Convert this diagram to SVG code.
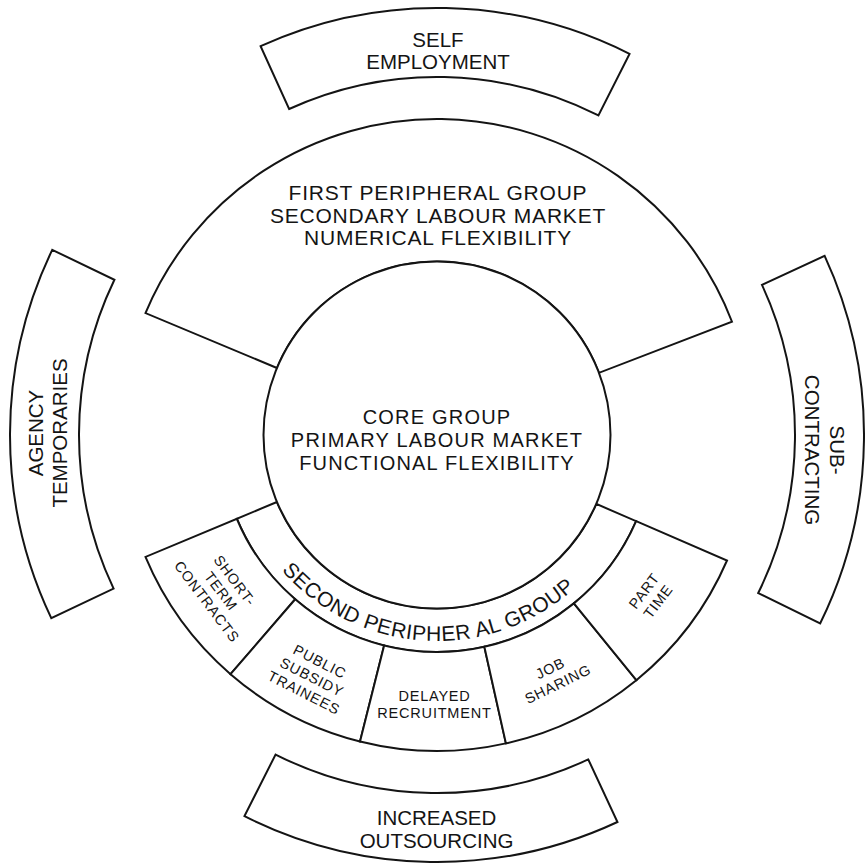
<svg xmlns="http://www.w3.org/2000/svg" width="865" height="865" viewBox="0 0 865 865">
<style>
.shape{fill:#fff;stroke:#141414;stroke-width:2;stroke-linejoin:miter}
text{font-family:"Liberation Sans",Arial,sans-serif;fill:#141414;text-anchor:middle}
.big{font-size:21px;letter-spacing:0.8px}
.core{font-size:20px;letter-spacing:1.2px}
.sat{font-size:20.5px}
.cell{font-size:14.5px;letter-spacing:0.8px}
.band{font-size:21px;letter-spacing:0.5px;text-anchor:middle}
</style>
<defs>
<path id="bandArc" d="M 247.38 515.49 A 206 206 0 0 0 626.62 515.49"/>
</defs>
<rect width="865" height="865" fill="#fff"/>

<g id="self-employment">
<path class="shape" d="M 260.61 46.14 A 427 427 0 0 1 629.53 53.86 L 598.42 115.45 A 358 358 0 0 0 289.11 108.98 Z"/>
<text class="sat" x="438" y="46.5">SELF</text>
<text class="sat" x="438" y="68.5">EMPLOYMENT</text>
</g>

<g id="agency-temporaries">
<path class="shape" d="M 52.24 249.83 L 114.41 279.75 A 358 358 0 0 0 113.60 588.56 L 51.27 618.16 A 427 427 0 0 1 52.24 249.83 Z"/>
<g transform="translate(0,433) rotate(-90)">
<text class="sat" x="0" y="43.3">AGENCY</text>
<text class="sat" x="0" y="66.7">TEMPORARIES</text>
</g>
</g>

<g id="sub-contracting">
<path class="shape" d="M 761.99 284.84 L 824.62 255.89 A 427 427 0 0 1 820.13 623.52 L 758.22 593.06 A 358 358 0 0 0 761.99 284.84 Z"/>
<g transform="translate(0,450) rotate(90)">
<text class="sat" x="0" y="-830">SUB-</text>
<text class="sat" x="0" y="-805">CONTRACTING</text>
</g>
</g>

<g id="increased-outsourcing">
<path class="shape" d="M 275.58 754.55 A 358 358 0 0 0 588.30 759.46 L 617.46 821.99 A 427 427 0 0 1 244.47 816.14 Z"/>
<text class="sat" x="436.5" y="825">INCREASED</text>
<text class="sat" x="436.5" y="848">OUTSOURCING</text>
</g>

<g id="first-peripheral-group">
<path class="shape" d="M 276.93 368.04 L 145.47 313.05 A 316 316 0 0 1 732.01 321.76 L 598.98 372.82 A 173.5 173.5 0 0 0 276.93 368.04 Z"/>
<text class="big" x="438" y="200">FIRST PERIPHERAL GROUP</text>
<text class="big" x="438" y="222.5">SECONDARY LABOUR MARKET</text>
<text class="big" x="438" y="245">NUMERICAL FLEXIBILITY</text>
</g>

<g id="second-peripheral-group">
<path class="shape" d="M 276.93 501.96 L 236.80 518.74 A 217 217 0 0 0 636.15 521.18 L 596.23 503.91 A 173.5 173.5 0 0 1 276.93 501.96 Z"/>
<text class="band"><textPath href="#bandArc" startOffset="47.5%">SECOND PERIPHER<tspan dx="5">AL GROUP</tspan></textPath></text>
</g>

<g id="short-term-contracts">
<path class="shape" d="M 295.21 599.27 L 230.52 674.21 A 316 316 0 0 1 145.47 556.95 L 236.80 518.74 A 217 217 0 0 0 295.21 599.27 Z"/>
<g transform="translate(221,591) rotate(53)">
<text class="cell" x="0" y="-12.3">SHORT-</text>
<text class="cell" x="0" y="5.2">TERM</text>
<text class="cell" x="0" y="22.7">CONTRACTS</text>
</g>
</g>

<g id="public-subsidy-trainees">
<path class="shape" d="M 384.13 645.46 L 360.02 741.48 A 316 316 0 0 1 230.52 674.21 L 295.21 599.27 A 217 217 0 0 0 384.13 645.46 Z"/>
<g transform="translate(312,677) rotate(27)">
<text class="cell" x="0" y="-12.3">PUBLIC</text>
<text class="cell" x="0" y="5.2">SUBSIDY</text>
<text class="cell" x="0" y="22.7">TRAINEES</text>
</g>
</g>

<g id="delayed-recruitment">
<path class="shape" d="M 484.34 646.77 L 505.93 743.39 A 316 316 0 0 1 360.02 741.48 L 384.13 645.46 A 217 217 0 0 0 484.34 646.77 Z"/>
<text class="cell" x="434.5" y="700.7">DELAYED</text>
<text class="cell" x="434.5" y="717.7">RECRUITMENT</text>
</g>

<g id="job-sharing">
<path class="shape" d="M 573.91 603.36 L 636.36 680.17 A 316 316 0 0 1 505.93 743.39 L 484.34 646.77 A 217 217 0 0 0 573.91 603.36 Z"/>
<g transform="translate(554,676) rotate(-26)">
<text class="cell" x="0" y="-3.5">JOB</text>
<text class="cell" x="0" y="14">SHARING</text>
</g>
</g>

<g id="part-time">
<path class="shape" d="M 636.15 521.18 L 727.01 560.50 A 316 316 0 0 1 636.36 680.17 L 573.91 603.36 A 217 217 0 0 0 636.15 521.18 Z"/>
<g transform="translate(651,596) rotate(-53)">
<text class="cell" x="0" y="-3.5">PART</text>
<text class="cell" x="0" y="14">TIME</text>
</g>
</g>

<g id="core-group">
<circle class="shape" cx="437" cy="435" r="173.5"/>
<text class="core" x="437" y="424">CORE GROUP</text>
<text class="core" x="437" y="447">PRIMARY LABOUR MARKET</text>
<text class="core" x="437" y="470">FUNCTIONAL FLEXIBILITY</text>
</g>
</svg>
